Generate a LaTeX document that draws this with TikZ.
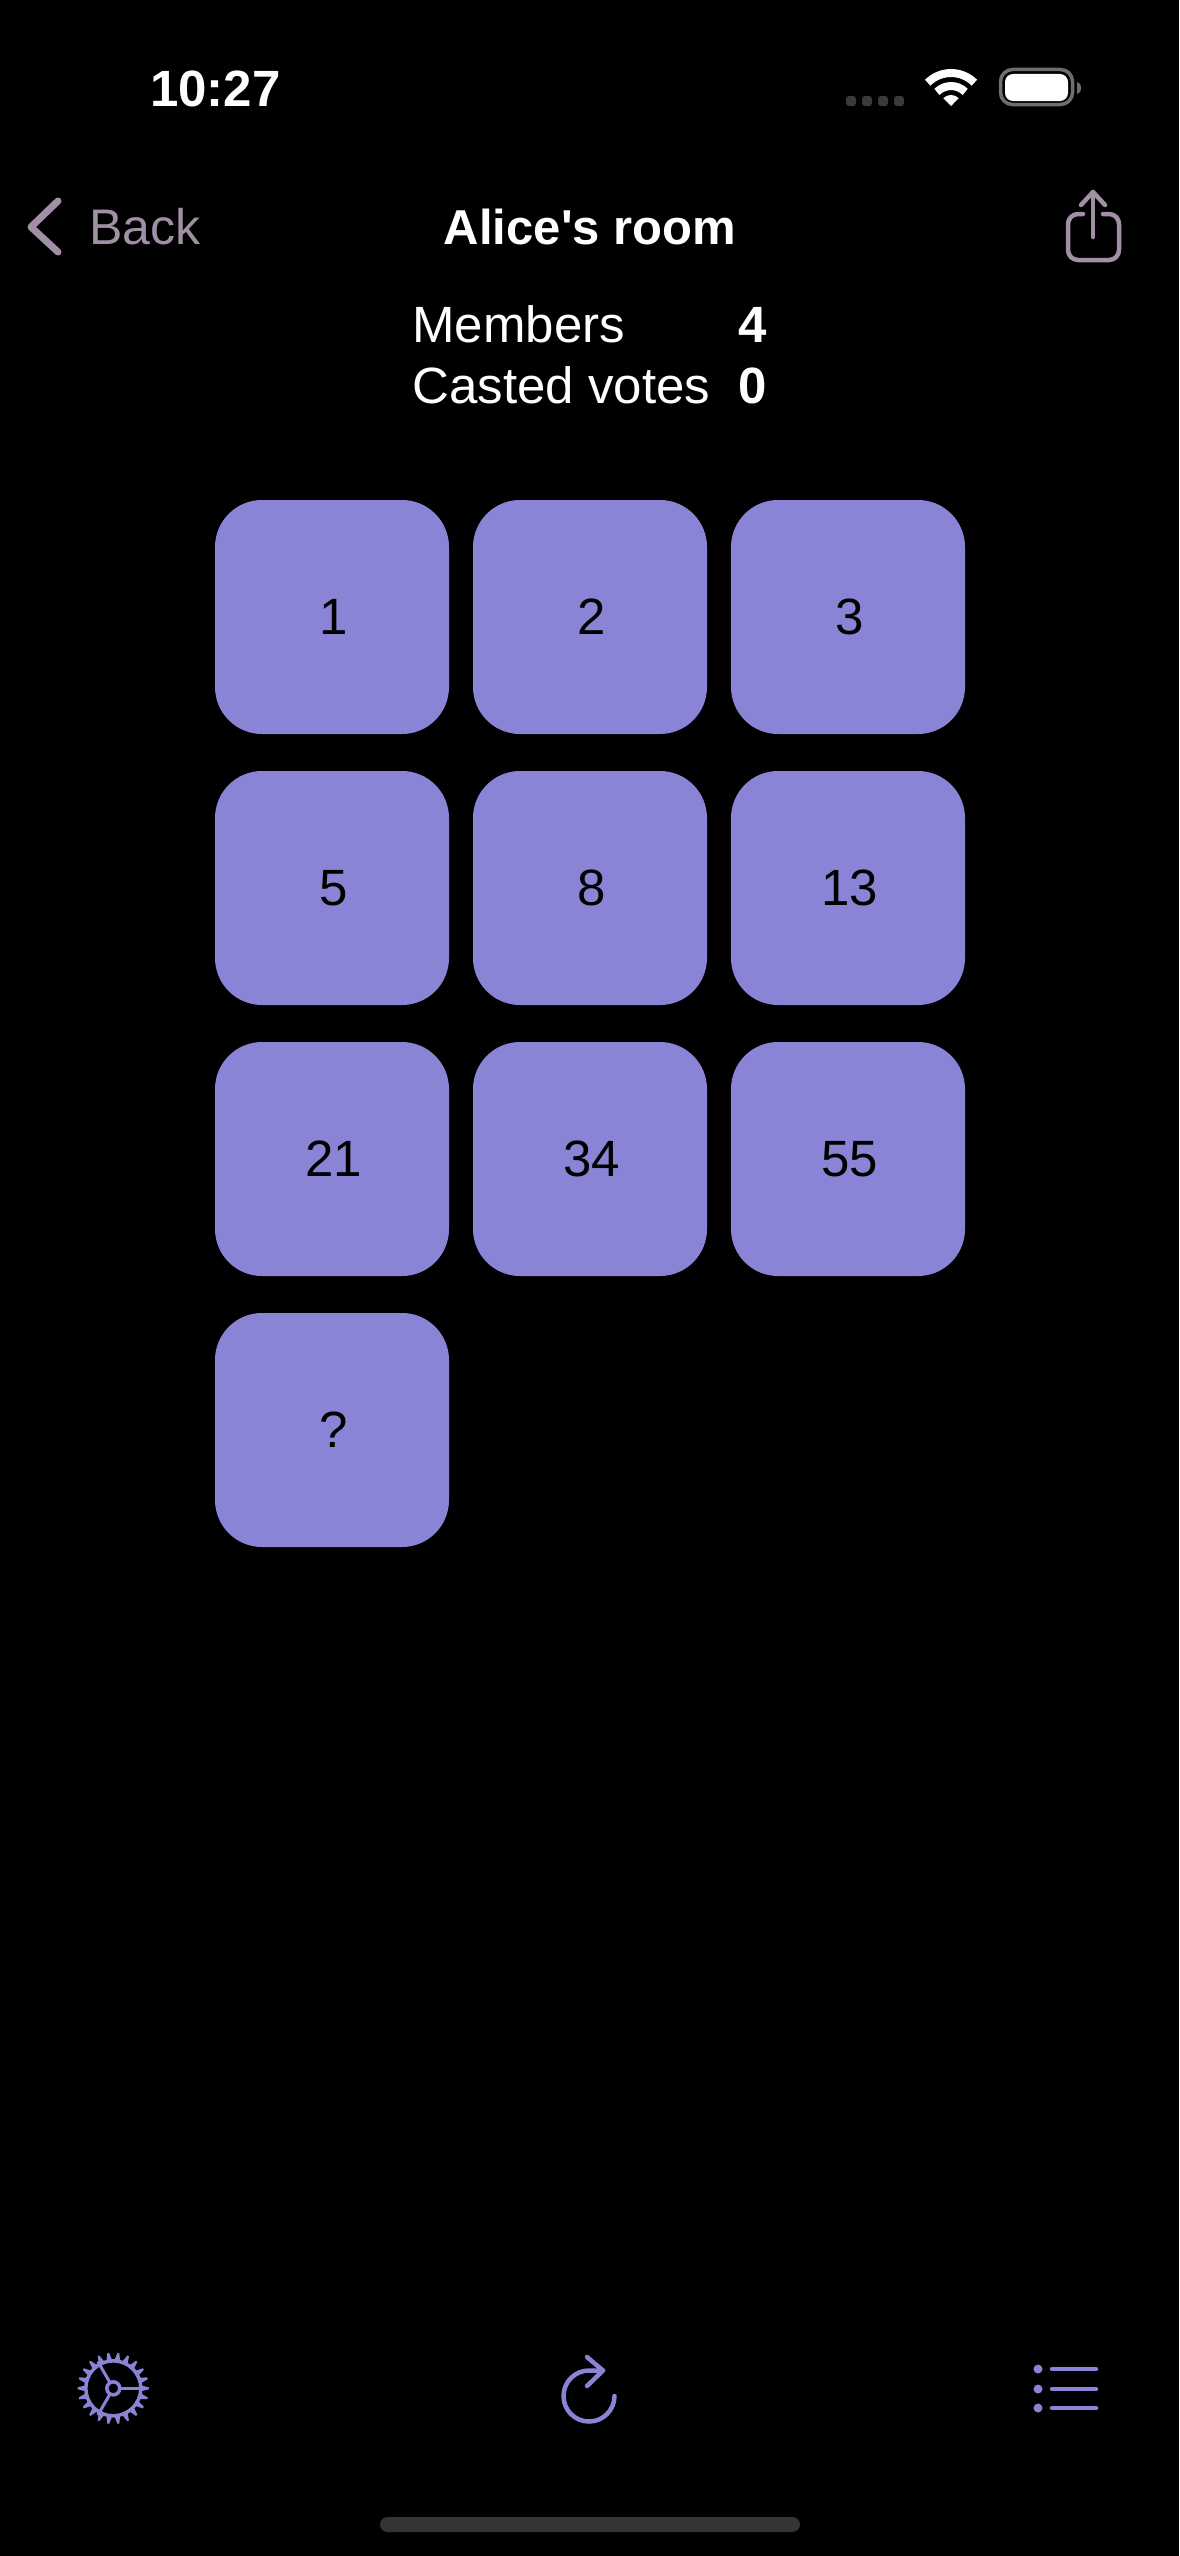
\documentclass[tikz,border=0pt]{standalone}
\usepackage{fontspec}
\setmainfont{Liberation Sans}
\usetikzlibrary{positioning}
\definecolor{tilecolor}{HTML}{8A84D6}
\definecolor{navcolor}{HTML}{A08FA5}
\definecolor{signalcolor}{HTML}{3A3A3A}
\definecolor{shellcolor}{HTML}{6E6E6E}
\definecolor{homecolor}{HTML}{343434}

\begin{document}
\begin{tikzpicture}[x=1pt,y=1pt,
                    tile/.style={rectangle,fill=tilecolor,rounded corners=47pt,minimum size=234pt,inner sep=0pt,outer sep=0pt,text=black,font=\fontsize{51}{51}\selectfont,execute at begin node=\kern3pt},
                    label text/.style={inner sep=0pt,outer sep=0pt,text=white,font=\fontsize{51}{51}\selectfont},
                    strong text/.style={label text,font=\fontsize{51}{51}\selectfont\bfseries},
                    nav line/.style={draw=navcolor,line width=4.5pt,line cap=round,line join=round},
                    bar icon/.style={draw=tilecolor,line width=4.5pt,line cap=round,line join=round}]
	\fill[black] (0,0) rectangle (1179,-2556);
	\useasboundingbox (0,0) rectangle (1179,-2556);

	\node[strong text,anchor=base west](clock) at (150,-106){10:27};
	\fill[signalcolor,rounded corners=3pt] (846,-96) rectangle +(10,-10);
	\fill[signalcolor,rounded corners=3pt] (862,-96) rectangle +(10,-10);
	\fill[signalcolor,rounded corners=3pt] (878,-96) rectangle +(10,-10);
	\fill[signalcolor,rounded corners=3pt] (894,-96) rectangle +(10,-10);
	\draw[white,line width=8pt] (927.7,-82.7) arc (135:45:33);
	\draw[white,line width=8pt] (936.9,-91.9) arc (135:45:20);
	\fill[white] (951,-106) -- (943.2,-98.2) arc (135:45:11) -- cycle;
	\draw[shellcolor,line width=3.5pt,rounded corners=12pt] (1000.5,-69.5) rectangle (1072.5,-104.5);
	\fill[white,rounded corners=8pt] (1005,-74) rectangle (1068,-101);
	\fill[shellcolor] (1077,-82) arc (90:-90:4 and 6) -- cycle;

	\draw[nav line,line width=7pt] (58,-201) -- (31,-227) -- (58,-252);
	\node[label text,text=navcolor,anchor=base west,font=\fontsize{50}{50}\selectfont](back) at (89,-244){Back};
	\node[strong text,anchor=base,font=\fontsize{49}{49}\selectfont\bfseries](title) at (590,-244){Alice\textquotesingle s room};
	\draw[nav line] (1083,-214) -- (1078,-214) arc (90:180:10) -- (1068,-250) arc (180:270:10) -- (1109,-260) arc (270:360:10) -- (1119,-224) arc (0:90:10) -- (1103,-214);
	\draw[nav line] (1093,-237) -- (1093,-192);
	\draw[nav line] (1081,-205) -- (1093,-192) -- (1105,-205);

	\node[label text,anchor=base west](members) at (412.5,-342){Members};
	\node[label text,anchor=base west](votes) at (412.5,-403){Casted votes};
	\node[strong text,anchor=base east](memberscount) at (767,-342){4};
	\node[strong text,anchor=base east](votescount) at (767,-403){0};

	\node[tile](t1) at (332,-617){1};
	\node[tile](t2)[right=24pt of t1]{2};
	\node[tile](t3)[right=24pt of t2]{3};
	\node[tile](t5)[below=37pt of t1]{5};
	\node[tile](t8)[right=24pt of t5]{8};
	\node[tile](t13)[right=24pt of t8]{13};
	\node[tile](t21)[below=37pt of t5]{21};
	\node[tile](t34)[right=24pt of t21]{34};
	\node[tile](t55)[right=24pt of t34]{55};
	\node[tile](tq)[below=37pt of t21]{?};

	\begin{scope}[shift={(113.3,-2388.3)}]
		\draw[bar icon,line width=3.5pt] (0,0) circle (27.5);
		\draw[bar icon,line width=3.5pt] (0,0) circle (6.5);
		\foreach \a in {0,120,240}
			\draw[bar icon,line width=3pt,line cap=butt] (\a:6.5) -- (\a:31);
		\foreach \i in {0,...,21}
			\fill[tilecolor] (\i*360/22-6:28) -- (\i*360/22-1.5:35.7) -- (\i*360/22+1.5:35.7) -- (\i*360/22+6:28) -- cycle;
	\end{scope}

	\draw[bar icon] (614.5,-2396) arc (0:-270:25.5) -- (603,-2370.5);
	\draw[bar icon] (587,-2357) -- (603,-2370.5) -- (587,-2386);

	\fill[tilecolor] (1038,-2369) circle (4.5);
	\fill[tilecolor] (1038,-2389) circle (4.5);
	\fill[tilecolor] (1038,-2408) circle (4.5);
	\draw[bar icon] (1052,-2369) -- (1096,-2369);
	\draw[bar icon] (1052,-2389) -- (1096,-2389);
	\draw[bar icon] (1052,-2408) -- (1096,-2408);

	\fill[homecolor,rounded corners=7.5pt] (380,-2517) rectangle (800,-2532);
\end{tikzpicture}
\end{document}
